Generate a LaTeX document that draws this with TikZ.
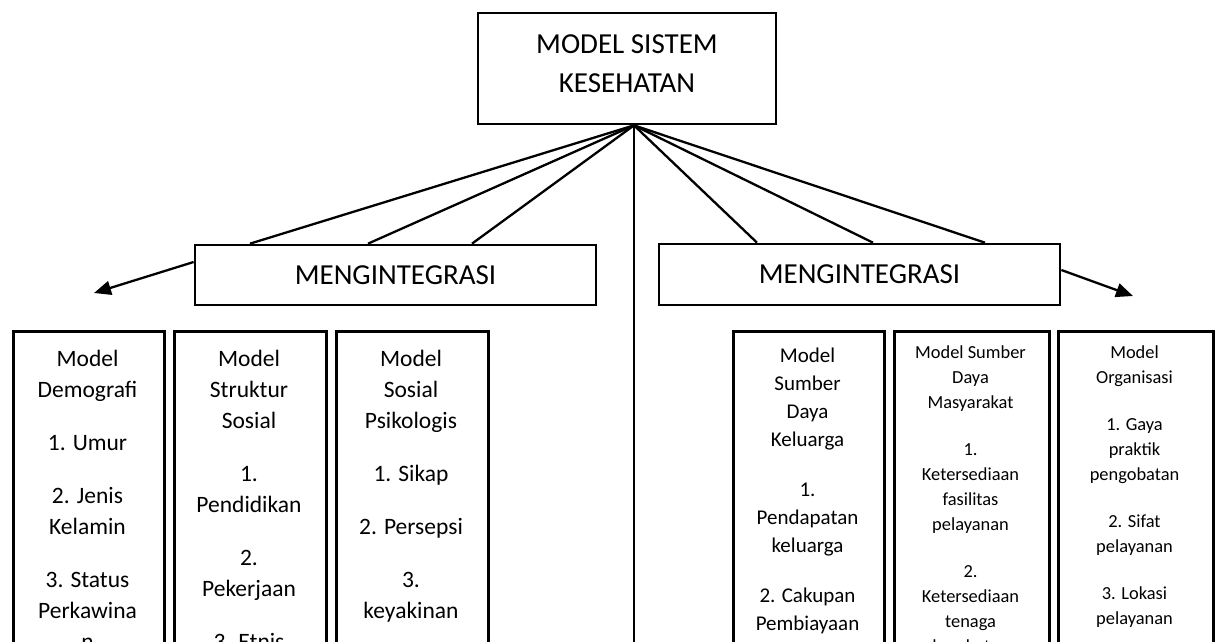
\documentclass[tikz,border=0pt]{standalone}
\usepackage{fontspec}
\setmainfont{Carlito}
\usetikzlibrary{arrows.meta}
\begin{document}
\begin{tikzpicture}[x=1pt,y=-1pt,
  box/.style={draw, line width=2.7pt, fill=white, inner sep=0pt, rectangle},
  conn/.style={line width=2.3pt},
  arr/.style={conn, -{Triangle[length=17pt,width=14pt]}},
  bigtxt/.style={font=\fontsize{29}{39}\selectfont, align=center},
  coltxtA/.style={font=\fontsize{23.5}{31}\selectfont, align=center, inner sep=0pt, anchor=north},
  coltxtB/.style={font=\fontsize{21}{28}\selectfont, align=center, inner sep=0pt, anchor=north},
  coltxtC/.style={font=\fontsize{18.4}{25}\selectfont, align=center, inner sep=0pt, anchor=north},
  colbox/.style={box, anchor=north west, minimum height=400pt}
]
\path[use as bounding box, clip] (0,0) rectangle (1218,641);
\fill[white] (0,0) rectangle (1218,641);

% top box
\node[box, bigtxt, minimum width=298pt, minimum height=111pt] (top) at (627,68.5) {MODEL SISTEM\\KESEHATAN\\[-29pt]\mbox{}};
\coordinate (f) at ([xshift=7pt]top.south);

% integration boxes
\node[box, bigtxt, minimum width=401pt, minimum height=60pt] (lm) at (395.5,275) {MENGINTEGRASI};
\node[box, bigtxt, minimum width=401pt, minimum height=61pt] (rm) at (859.5,274.5) {MENGINTEGRASI};

% fan connectors
\draw[conn] (f) -- ([xshift=-145.5pt]lm.north);
\draw[conn] (f) -- ([xshift=-27.5pt]lm.north);
\draw[conn] (f) -- ([xshift=76.5pt]lm.north);
\draw[conn] (f) -- ([xshift=-102.5pt]rm.north);
\draw[conn] (f) -- ([xshift=13.5pt]rm.north);
\draw[conn] (f) -- ([xshift=125.5pt]rm.north);
\coordinate (vb) at (634,660);
\draw[conn] (f) -- (vb);

% arrows
\coordinate (la) at (94,293);
\coordinate (ra) at (1133,296);
\draw[arr] ([yshift=13pt]lm.west) -- (la);
\draw[arr] ([yshift=4.5pt]rm.east) -- (ra);

% column boxes
\node[colbox, minimum width=151pt] (b1) at (12,330) {};
\node[colbox, minimum width=152pt] (b2) at (173,330) {};
\node[colbox, minimum width=152pt] (b3) at (335,330) {};
\node[colbox, minimum width=151pt] (b4) at (732,330) {};
\node[colbox, minimum width=155pt] (b5) at (893,330) {};
\node[colbox, minimum width=155pt] (b6) at (1057,330) {};

% column texts
\node[coltxtA] (t1) at (87.5,350) {Model\\Demografi\\[22pt]1. Umur\\[22pt]2. Jenis\\Kelamin\\[22pt]3. Status\\Perkawina\\n};
\node[coltxtA] (t2) at (249,350) {Model\\Struktur\\Sosial\\[22pt]1.\\Pendidikan\\[22pt]2.\\Pekerjaan\\[22pt]3. Etnis};
\node[coltxtA] (t3) at (411,350) {Model\\Sosial\\Psikologis\\[22pt]1. Sikap\\[22pt]2. Persepsi\\[22pt]3.\\keyakinan};
\node[coltxtB] (t4) at (807.5,348) {Model\\Sumber\\Daya\\Keluarga\\[22pt]1.\\Pendapatan\\keluarga\\[22pt]2. Cakupan\\Pembiayaan};
\node[coltxtC] (t5) at (970.5,346) {Model Sumber\\Daya\\Masyarakat\\[22pt]1.\\Ketersediaan\\fasilitas\\pelayanan\\[22pt]2.\\Ketersediaan\\tenaga\\kesehatan};
\node[coltxtC] (t6) at (1134.5,346) {Model\\Organisasi\\[22pt]1. Gaya\\praktik\\pengobatan\\[22pt]2. Sifat\\pelayanan\\[22pt]3. Lokasi\\pelayanan};
\end{tikzpicture}
\end{document}
